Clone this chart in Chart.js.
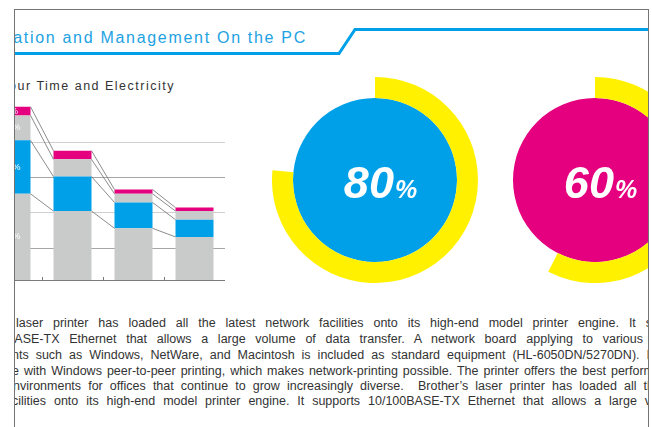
<!DOCTYPE html>
<html>
<head>
<meta charset="utf-8">
<script src="https://cdn.jsdelivr.net/npm/chart.js@4.4.1/dist/chart.umd.min.js"></script>
<style>
html, body { margin: 0; padding: 0; background: #fff; }
body { width: 652px; height: 427px; position: relative; overflow: hidden; font-family: "Liberation Sans", Arial, sans-serif; }
#page { position: absolute; left: 0; top: 0; width: 652px; height: 427px; clip-path: inset(10px 4px 0 15px); }
#frame { position: absolute; left: 14px; top: 9px; width: 633px; height: 440px; border: 1px solid #747474; }
.title { position: absolute; right: 345px; top: 28px; color: #1da2e3; font-size: 16px; line-height: 20px; letter-spacing: 1.7px; white-space: nowrap; }
.sub { position: absolute; right: 477px; top: 78px; color: #333; font-size: 12.5px; line-height: 16px; letter-spacing: 1.5px; white-space: nowrap; }
.ln { position: absolute; display: inline-block; white-space: pre; font-size: 12.5px; line-height: 16px; color: #333; }
#barBox { position: absolute; left: -19px; top: 99px; }
#ringA { position: absolute; left: 272px; top: 77px; }
#ringB { position: absolute; left: 492px; top: 77px; }
</style>
</head>
<body>
<div id="page">
  <svg width="652" height="427" style="position:absolute;left:0;top:0">
    <polyline points="0,53.5 339,53.5 355,29.5 652,29.5" fill="none" stroke="#00a0e9" stroke-width="3"/>
  </svg>
  <div class="title">Network Administration and Management On the PC</div>
  <div class="sub">Saving Your Time and Electricity</div>

  <div id="barBox"><canvas id="bars" width="244" height="182"></canvas></div>
  <div id="ringA"><canvas id="donutA" width="206" height="206"></canvas></div>
  <div id="ringB"><canvas id="donutB" width="206" height="206"></canvas></div>

  <div class="ln" data-x="16" data-r="652" style="top:315px">laser printer has loaded all the latest network facilities onto its high-end model printer engine. It s</div>
  <div class="ln" data-x="6" data-r="643" style="top:331px">BASE-TX Ethernet that allows a large volume of data transfer. A network board applying to various</div>
  <div class="ln" data-x="12" data-r="650" style="top:347px">nts such as Windows, NetWare, and Macintosh is included as standard equipment (HL-6050DN/5270DN). I</div>
  <div class="ln" data-x="12" data-r="654" style="top:363px">e with Windows peer-to-peer printing, which makes network-printing possible. The printer offers the best perform</div>
  <div class="ln" data-x="13" data-r="654" style="top:378px">nvironments for offices that continue to grow increasingly diverse.  Brother’s laser printer has loaded all th</div>
  <div class="ln" data-x="12" data-r="651" style="top:393px">cilities onto its high-end model printer engine. It supports 10/100BASE-TX Ethernet that allows a large v</div>
</div>
<div id="frame"></div>

<script>
const categories = ["1", "2", "3", "4"];
const baseGray = [50, 40, 30, 25];
const blueVals = [31, 20, 15, 10];
const upperGray = [14.5, 10, 5, 5];
const pinkVals = [5, 5, 2.5, 2];
const gridValues = [18.5, 39, 59.5, 79.5];

const ringShares = [76.5, 57.5];
const centerLabels = ["80", "60"];

/* justify the body text lines */
document.querySelectorAll(".ln").forEach(el => {
    const x = +el.dataset.x, target = +el.dataset.r - x;
    el.style.left = x + "px";
    const spaces = (el.textContent.match(/ /g) || []).length;
    let nat = el.getBoundingClientRect().width;
    if (nat > target) {
        el.style.letterSpacing = ((target - nat) / el.textContent.length) + "px";
        nat = el.getBoundingClientRect().width;
    }
    if (spaces) el.style.wordSpacing = ((target - nat) / spaces) + "px";
});

/* BAR CHART */
const barDecor = {
    id: "barDecor",
    afterDatasetsDraw(chart) {
        const ctx = chart.ctx;
        const xs = chart.scales.x;
        ctx.save();
        ctx.strokeStyle = "#6e6e6e";
        ctx.lineWidth = 0.8;
        chart.data.datasets.forEach((ds, d) => {
            const bars = chart.getDatasetMeta(d).data;
            for (let i = 0; i < bars.length - 1; i++) {
                const a = bars[i], b = bars[i + 1];
                ctx.beginPath();
                ctx.moveTo(a.x + a.width / 2, a.y);
                ctx.lineTo(b.x - b.width / 2, b.y);
                ctx.stroke();
            }
        });
        ctx.strokeStyle = "#7a7a7a";
        ctx.lineWidth = 1;
        const bottom = chart.chartArea.bottom;
        for (let i = 0; i < categories.length; i++) {
            const px = Math.round(xs.getPixelForValue(i + 0.5)) + 0.5;
            ctx.beginPath();
            ctx.moveTo(px, bottom);
            ctx.lineTo(px, bottom - 3);
            ctx.stroke();
        }
        ctx.fillStyle = "#fff";
        ctx.font = '9px "Liberation Sans", Arial, sans-serif';
        ctx.textAlign = "center";
        ctx.textBaseline = "middle";
        chart.data.datasets.forEach((ds, d) => {
            const bar = chart.getDatasetMeta(d).data[0];
            ctx.fillText(Math.round(ds.data[0]) + "%", bar.x, (bar.y + bar.base) / 2);
        });
        ctx.restore();
    }
};

new Chart(document.getElementById("bars"), {
    type: "bar",
    data: {
        labels: categories,
        datasets: [
            { data: baseGray, backgroundColor: "#c9caca" },
            { data: blueVals, backgroundColor: "#00a0e9" },
            { data: upperGray, backgroundColor: "#c9caca" },
            { data: pinkVals, backgroundColor: "#e4007f" }
        ]
    },
    options: {
        responsive: false,
        animation: false,
        events: [],
        layout: { padding: { left: 0, right: 0, top: 0, bottom: 1 } },
        datasets: { bar: { barPercentage: 0.623, categoryPercentage: 1, borderWidth: 0 } },
        scales: {
            x: {
                stacked: true,
                grid: { display: false, drawTicks: false },
                border: { display: true, color: "#7a7a7a", width: 1 },
                ticks: { display: false }
            },
            y: {
                stacked: true,
                min: 0,
                max: 105,
                afterBuildTicks: s => { s.ticks = gridValues.map(v => ({ value: v })); },
                grid: { drawTicks: false, color: c => c.index % 2 ? "#d0d0d0" : "#a6a6a6", lineWidth: 1 },
                border: { display: false },
                ticks: { display: false }
            }
        },
        plugins: { legend: { display: false }, tooltip: { enabled: false } }
    },
    plugins: [barDecor]
});

/* DONUTS */
const centerText = {
    id: "centerText",
    afterDraw(chart, args, opts) {
        const ctx = chart.ctx;
        const arc = chart.getDatasetMeta(1).data[0];
        const cx = arc.x, cy = arc.y;
        ctx.save();
        ctx.fillStyle = "#fff";
        ctx.textBaseline = "alphabetic";
        ctx.textAlign = "left";
        const big = 'italic bold 45px "Liberation Sans", Arial, sans-serif';
        const small = 'italic bold 25px "Liberation Sans", Arial, sans-serif';
        ctx.font = big;
        const w1 = ctx.measureText(opts.text).width;
        ctx.font = small;
        const w2 = ctx.measureText("%").width;
        const x0 = cx - (w1 + w2) / 2 + 5;
        ctx.font = big;
        ctx.fillText(opts.text, x0, cy + 18);
        ctx.font = small;
        ctx.fillText("%", x0 + w1 + 1, cy + 18);
        ctx.restore();
    }
};

function donut(id, share, fill, text) {
    new Chart(document.getElementById(id), {
        type: "doughnut",
        data: {
            datasets: [
                { data: [share, 100 - share], backgroundColor: ["#fff100", "rgba(0,0,0,0)"], borderWidth: 0, weight: 21 },
                { data: [100], backgroundColor: [fill], borderWidth: 0, weight: 82 }
            ]
        },
        options: {
            responsive: false,
            animation: false,
            events: [],
            cutout: 0,
            plugins: { legend: { display: false }, tooltip: { enabled: false }, centerText: { text: text } }
        },
        plugins: [centerText]
    });
}

donut("donutA", ringShares[0], "#00a0e9", centerLabels[0]);
donut("donutB", ringShares[1], "#e4007f", centerLabels[1]);
</script>
</body>
</html>
